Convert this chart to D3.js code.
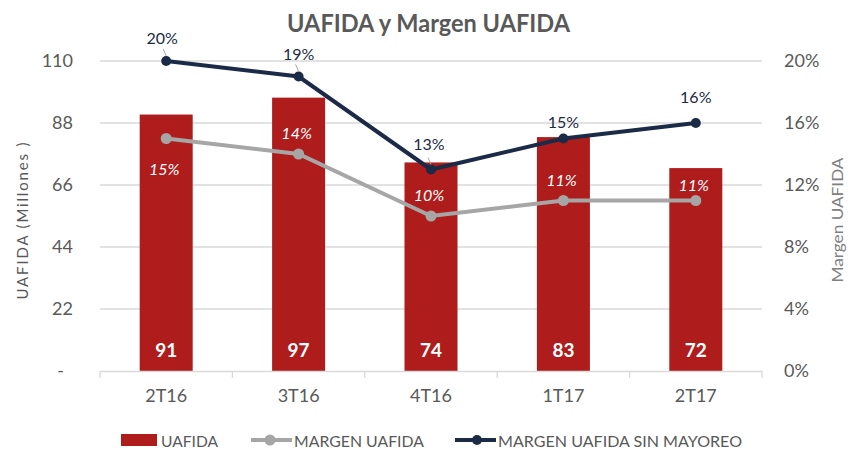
<!DOCTYPE html>
<html><head><meta charset="utf-8">
<script src="https://cdn.jsdelivr.net/npm/d3@7"></script>
<style>body{margin:0;background:#fff}svg{font-family:Lato,"Open Sans",sans-serif}</style>
</head><body><svg id="c" width="848" height="451"></svg>
<script>
const categories = ["2T16","3T16","4T16","1T17","2T17"];
const uafida = [91,97,74,83,72];
const margen = [0.15,0.14,0.10,0.11,0.11];
const margenSinMayoreo = [0.20,0.19,0.13,0.15,0.16];
const leftTicks = [0,22,44,66,88,110];
const rightTicks = [0,0.04,0.08,0.12,0.16,0.20];

(function(){
const svg = d3.select("#c");
const pL = 100, pR = 762, pT = 61, pB = 371;
const xb = d3.scaleBand().domain(categories).range([pL,pR]);
const y = d3.scaleLinear().domain([0,110]).range([pB,pT]);
const y2 = d3.scaleLinear().domain([0,0.20]).range([pB,pT]);
const txt = "#595959";

// gridlines
svg.append("g").selectAll("line").data(leftTicks.slice(1)).join("line")
  .attr("x1",pL).attr("x2",pR).attr("y1",d=>y(d)).attr("y2",d=>y(d))
  .attr("stroke","#d9d9d9").attr("stroke-width",1.3);

// left axis labels
const yAx = svg.append("g").attr("transform",`translate(${pL},0)`)
  .call(d3.axisLeft(y).tickValues(leftTicks).tickSize(0).tickPadding(27).tickFormat(d=>d===0?"-":d));
yAx.select(".domain").remove();
yAx.selectAll("text").attr("font-size",18).attr("fill",txt).attr("font-family","Lato");
yAx.selectAll("text").filter(d=>d===0).attr("x",-36);

// right axis labels
const y2Ax = svg.append("g").attr("transform",`translate(${pR},0)`)
  .call(d3.axisRight(y2).tickValues(rightTicks).tickSize(0).tickPadding(22).tickFormat(d3.format(".0%")));
y2Ax.select(".domain").remove();
y2Ax.selectAll("text").attr("font-size",18).attr("fill",txt).attr("font-family","Lato");

// bars
svg.append("g").selectAll("rect").data(uafida).join("rect")
  .attr("x",(d,i)=>xb(categories[i])+xb.bandwidth()/2-26.5).attr("width",53)
  .attr("y",d=>y(d)).attr("height",d=>pB-y(d)).attr("fill","#AE1C1C");

// x axis
const xAx = svg.append("g").attr("transform",`translate(0,${pB})`)
  .call(d3.axisBottom(xb).tickSize(0).tickPadding(18));
xAx.select(".domain").attr("stroke","#d9d9d9").attr("stroke-width",1.3);
xAx.selectAll("text").attr("font-size",18).attr("fill",txt).attr("font-family","Lato");
svg.append("g").selectAll("line").data(d3.range(categories.length+1)).join("line")
  .attr("x1",i=>pL+i*xb.step()).attr("x2",i=>pL+i*xb.step())
  .attr("y1",pB).attr("y2",pB+7).attr("stroke","#d9d9d9").attr("stroke-width",1.3);

const cx = i=>xb(categories[i])+xb.bandwidth()/2;

// bar labels
svg.append("g").selectAll("text").data(uafida).join("text")
  .attr("x",(d,i)=>cx(i)).attr("y",357)
  .attr("text-anchor","middle").attr("fill","#fff").attr("font-weight","bold").attr("font-size",19)
  .text(d=>d);

// gray line
svg.append("path").datum(margen).attr("fill","none").attr("stroke","#A6A6A6").attr("stroke-width",4)
  .attr("d",d3.line().x((d,i)=>cx(i)).y(d=>y2(d)));
svg.append("g").selectAll("circle").data(margen).join("circle")
  .attr("cx",(d,i)=>cx(i)).attr("cy",d=>y2(d)).attr("r",5.5).attr("fill","#A6A6A6");

// navy line
svg.append("path").datum(margenSinMayoreo).attr("fill","none").attr("stroke","#1B2A47").attr("stroke-width",4)
  .attr("d",d3.line().x((d,i)=>cx(i)).y(d=>y2(d)));
svg.append("g").selectAll("circle").data(margenSinMayoreo).join("circle")
  .attr("cx",(d,i)=>cx(i)).attr("cy",d=>y2(d)).attr("r",5).attr("fill","#1B2A47");

// gray labels (italic white)
const grayOff = [30,-21,-21,-21,-16];
svg.append("g").selectAll("text").data(margen).join("text")
  .attr("x",(d,i)=>cx(i)-2).attr("y",(d,i)=>y2(d)+grayOff[i]+6)
  .attr("text-anchor","middle").attr("fill","#fff").attr("font-style","italic").attr("font-size",16)
  .text(d=>d3.format(".0%")(d));

// navy labels
const navyOff = [-23,-23,-26,-17,-26];
const navyDx = [-4,0,-2,0,0];
svg.append("g").selectAll("text").data(margenSinMayoreo).join("text")
  .attr("x",(d,i)=>cx(i)+navyDx[i]).attr("y",(d,i)=>y2(d)+navyOff[i]+6)
  .attr("text-anchor","middle").attr("fill","#1B2A47").attr("font-size",16)
  .text(d=>d3.format(".0%")(d));
// leader lines
svg.append("g").selectAll("line").data([0,1,2]).join("line")
  .attr("x1",i=>cx(i)-3).attr("y1",i=>y2(margenSinMayoreo[i])-12)
  .attr("x2",i=>cx(i)).attr("y2",i=>y2(margenSinMayoreo[i])-5)
  .attr("stroke","#A6A6A6").attr("stroke-width",1);

// title
svg.append("text").attr("x",428.5).attr("y",32).attr("text-anchor","middle")
  .attr("font-weight","bold").attr("font-size",24).attr("fill",txt)
  .attr("textLength",283).attr("lengthAdjust","spacingAndGlyphs").text("UAFIDA y Margen UAFIDA");

// axis titles
svg.append("text").attr("transform","translate(28,221) rotate(-90)").attr("text-anchor","middle")
  .attr("font-size",15).attr("fill",txt).attr("textLength",157).attr("lengthAdjust","spacing").text("UAFIDA (Millones )");
svg.append("text").attr("transform","translate(843,220) rotate(-90)").attr("text-anchor","middle")
  .attr("font-size",15).attr("fill","#808080").attr("textLength",125).attr("lengthAdjust","spacingAndGlyphs").text("Margen UAFIDA");

// legend
const lg = svg.append("g").attr("font-size",16).attr("fill",txt);
lg.append("rect").attr("x",121).attr("y",434).attr("width",36).attr("height",12).attr("fill","#AE1C1C");
lg.append("text").attr("x",161).attr("y",447).attr("textLength",57).attr("lengthAdjust","spacingAndGlyphs").text("UAFIDA");
lg.append("line").attr("x1",251).attr("x2",292).attr("y1",440).attr("y2",440).attr("stroke","#A6A6A6").attr("stroke-width",4);
lg.append("circle").attr("cx",270).attr("cy",440).attr("r",5.5).attr("fill","#A6A6A6");
lg.append("text").attr("x",294).attr("y",447).attr("textLength",130).attr("lengthAdjust","spacingAndGlyphs").text("MARGEN UAFIDA");
lg.append("line").attr("x1",455).attr("x2",496).attr("y1",440).attr("y2",440).attr("stroke","#1B2A47").attr("stroke-width",4);
lg.append("circle").attr("cx",477).attr("cy",440).attr("r",5).attr("fill","#1B2A47");
lg.append("text").attr("x",498).attr("y",447).attr("textLength",244).attr("lengthAdjust","spacingAndGlyphs").text("MARGEN UAFIDA SIN MAYOREO");
})();
</script></body></html>
